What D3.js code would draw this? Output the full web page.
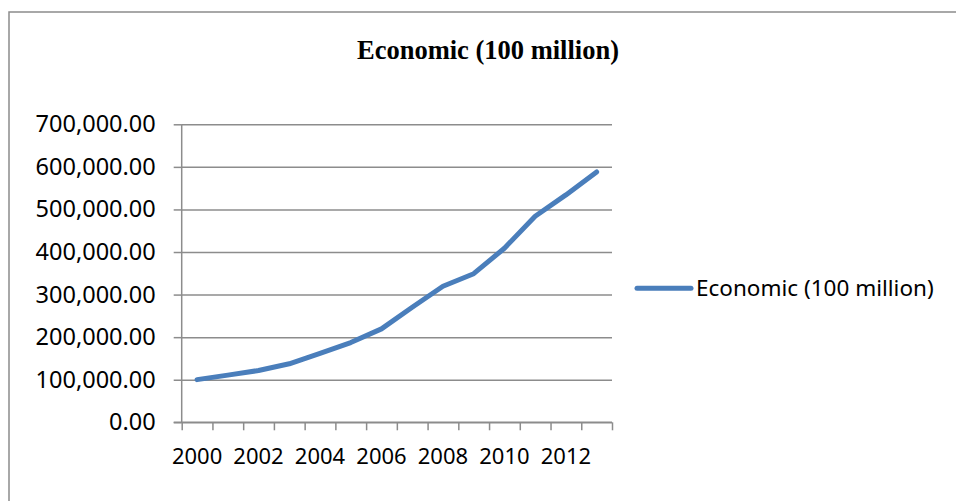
<!DOCTYPE html>
<html>
<head>
<meta charset="utf-8">
<script src="https://cdn.jsdelivr.net/npm/d3@7"></script>
<style>
  body { margin: 0; background: #fff; }
  svg { display: block; }
</style>
</head>
<body>
<div id="chart"></div>
<script>
// data (100 million)
var years = [2000, 2001, 2002, 2003, 2004, 2005, 2006, 2007, 2008, 2009, 2010, 2011, 2012, 2013];
var economic = [100280, 110863, 121717, 137422, 161840, 187319, 219439, 270232, 319516, 349081, 408903, 484124, 534123, 588019];
var yTicks = [0, 100000, 200000, 300000, 400000, 500000, 600000, 700000];
var xLabels = [2000, 2002, 2004, 2006, 2008, 2010, 2012];
var seriesName = "Economic (100 million)";

var vWidth = 956, vHeight = 501;
var plot = { left: 181.7, right: 612, top: 124.3, bottom: 422.3 };
var gridColor = "#8c8c8c", lineColor = "#4a7ebb";

var svg = d3.select("#chart").append("svg")
    .attr("width", vWidth)
    .attr("height", vHeight);

// outer chart frame (runs off the right and bottom edges)
svg.append("rect")
    .attr("x", 9).attr("y", 12)
    .attr("width", 980).attr("height", 520)
    .attr("fill", "none")
    .attr("stroke", gridColor)
    .attr("stroke-width", 1.5);

svg.append("text")
    .attr("x", 488).attr("y", 59)
    .attr("text-anchor", "middle")
    .style("font-family", "'Liberation Serif', 'Times New Roman', serif")
    .style("font-weight", "bold")
    .style("font-size", "26.5px")
    .text(seriesName);

var x = d3.scaleBand()
    .domain(years)
    .range([plot.left, plot.right]);

var xEdges = d3.scaleLinear()
    .domain([0, years.length])
    .range([plot.left, plot.right]);

var y = d3.scaleLinear()
    .domain([0, 700000])
    .range([plot.bottom, plot.top]);

// gridlines
svg.append("g")
    .attr("class", "grid")
    .attr("transform", "translate(" + plot.left + ",0)")
    .call(d3.axisLeft(y).tickValues(yTicks).tickSize(-(plot.right - plot.left)).tickFormat(""))
    .call(function (g) { g.select(".domain").remove(); });

// y axis
svg.append("g")
    .attr("class", "yaxis")
    .attr("transform", "translate(" + plot.left + ",0)")
    .call(d3.axisLeft(y).tickValues(yTicks).tickSize(8).tickPadding(18).tickFormat(d3.format(",.2f")));

// x axis tick marks at category edges
svg.append("g")
    .attr("class", "xedges")
    .attr("transform", "translate(0," + plot.bottom + ")")
    .call(d3.axisBottom(xEdges).ticks(years.length).tickSize(8).tickFormat(""));

// x labels
svg.append("g")
    .attr("class", "xlabels")
    .attr("transform", "translate(0," + plot.bottom + ")")
    .call(d3.axisBottom(x).tickValues(xLabels).tickSize(0).tickPadding(26))
    .call(function (g) { g.select(".domain").remove(); });

svg.selectAll(".grid line, .yaxis line, .xedges line")
    .attr("stroke", gridColor)
    .attr("stroke-width", 1.5);
svg.select(".yaxis .domain").remove();
svg.select(".xedges .domain").remove();
svg.append("line")
    .attr("x1", plot.left).attr("x2", plot.left)
    .attr("y1", plot.top).attr("y2", plot.bottom)
    .attr("stroke", gridColor).attr("stroke-width", 1.5);
svg.append("line")
    .attr("x1", plot.left - 8).attr("x2", plot.right)
    .attr("y1", plot.bottom).attr("y2", plot.bottom)
    .attr("stroke", gridColor).attr("stroke-width", 1.5);

svg.selectAll(".yaxis text, .xlabels text")
    .style("font-family", "'Noto Sans', 'Open Sans', sans-serif")
    .style("font-size", "23.5px")
    .attr("fill", "#000");
svg.selectAll(".xlabels text").style("font-size", "22px");

// the series line
var line = d3.line()
    .x(function (d, i) { return x(years[i]) + x.bandwidth() / 2; })
    .y(function (d) { return y(d); });

svg.append("path")
    .datum(economic)
    .attr("d", line)
    .attr("fill", "none")
    .attr("stroke", lineColor)
    .attr("stroke-width", 5)
    .attr("stroke-linecap", "round")
    .attr("stroke-linejoin", "round");

// legend
var legend = svg.append("g").attr("transform", "translate(637,288.3)");
legend.append("line")
    .attr("x1", 0).attr("x2", 54)
    .attr("stroke", lineColor)
    .attr("stroke-width", 5)
    .attr("stroke-linecap", "round");
legend.append("text")
    .attr("x", 59).attr("y", 8)
    .style("font-family", "'Noto Sans', 'Open Sans', sans-serif")
    .style("font-size", "22.5px")
    .text(seriesName);
</script>
</body>
</html>
